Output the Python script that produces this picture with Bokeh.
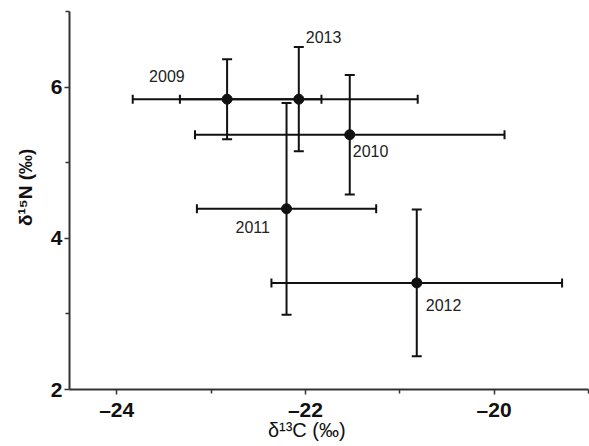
from bokeh.plotting import figure
from bokeh.models import (ColumnDataSource, Range1d, FixedTicker, Whisker, TeeHead, LabelSet)
from bokeh.core.properties import value
from bokeh.embed import file_html
from bokeh.resources import INLINE

# ---- data ----
years = ["2009", "2010", "2011", "2012", "2013"]
d13c = [-22.83, -21.53, -22.20, -20.82, -22.07]
d13c_sd = [1.00, 1.64, 0.95, 1.54, 1.26]
d15n = [5.84, 5.37, 4.39, 3.41, 5.84]
d15n_sd = [0.53, 0.79, 1.40, 0.97, 0.69]

x_major = [-24, -22, -20]
x_minor = [-23, -21, -19]
y_major = [2, 4, 6]
y_minor = [3, 5, 7]

NBSP = "\u00a0"
x_title = "\u03b4\u00b9\u00b3C (\u2030)"
y_title = "\u03b4\u00b9\u2075N (\u2030)"

# label offsets in screen pixels (style, not data)
lab_dx = [-78, 3, -51, 9, 7]
lab_dy = [17, -22, -24, -28, 56]

FONT = "Liberation Sans"
INK = "#111111"

src = ColumnDataSource(dict(
    year=years, x=d13c, y=d15n,
    xl=[a - b for a, b in zip(d13c, d13c_sd)], xu=[a + b for a, b in zip(d13c, d13c_sd)],
    yl=[a - b for a, b in zip(d15n, d15n_sd)], yu=[a + b for a, b in zip(d15n, d15n_sd)],
    dx=lab_dx, dy=lab_dy,
))

p = figure(width=589, height=446, output_backend="svg", toolbar_location=None,
           x_range=Range1d(-24.5, -19.0), y_range=Range1d(2, 7),
           min_border_left=69, min_border_right=1, min_border_top=11, min_border_bottom=57)
p.outline_line_color = None
p.grid.grid_line_color = None
p.background_fill_color = "white"
p.border_fill_color = "white"

p.xaxis.ticker = FixedTicker(ticks=x_major, minor_ticks=x_minor)
p.yaxis.ticker = FixedTicker(ticks=y_major, minor_ticks=y_minor)
p.xaxis.major_label_overrides = {t: "\u2013" + str(abs(t)) for t in x_major}
p.yaxis.major_label_overrides = {t: str(t) for t in y_major}
for ax in (p.xaxis, p.yaxis):
    ax.axis_line_width = 2
    ax.axis_line_color = "#333333"
    ax.major_tick_line_color = "#333333"
    ax.minor_tick_line_color = "#333333"
    ax.major_tick_line_width = 1.5
    ax.minor_tick_line_width = 1.5
    ax.major_tick_in = 0
    ax.minor_tick_in = 0
    ax.major_tick_out = 5
    ax.minor_tick_out = 4
    ax.major_label_text_font = FONT
    ax.major_label_text_font_style = "bold"
    ax.major_label_text_font_size = "21px"
    ax.major_label_text_color = "#111111"
    ax.axis_label_text_font = FONT
    ax.axis_label_text_color = "#111111"
p.xaxis.major_label_standoff = 3
p.yaxis.major_label_standoff = 2

# non-breaking-space padding shifts the centred titles to where the reference has them
p.xaxis.axis_label = x_title + NBSP * 8
p.xaxis.axis_label_text_font_size = "20px"
p.xaxis.axis_label_text_font_style = "normal"
p.xaxis.axis_label_standoff = -5
p.yaxis.axis_label = NBSP * 5 + y_title
p.yaxis.axis_label_text_font_size = "19px"
p.yaxis.axis_label_text_font_style = "bold"
p.yaxis.axis_label_standoff = 12

# error bars
p.add_layout(Whisker(source=src, base="y", lower="xl", upper="xu", dimension="width",
                     line_color=INK, line_width=2,
                     lower_head=TeeHead(size=9, line_color=INK, line_width=2),
                     upper_head=TeeHead(size=9, line_color=INK, line_width=2)))
p.add_layout(Whisker(source=src, base="x", lower="yl", upper="yu", dimension="height",
                     line_color=INK, line_width=2,
                     lower_head=TeeHead(size=10, line_color=INK, line_width=2),
                     upper_head=TeeHead(size=10, line_color=INK, line_width=2)))

p.scatter("x", "y", source=src, size=10, fill_color=INK, line_color=INK)

p.add_layout(LabelSet(x="x", y="y", text="year", source=src, x_offset="dx", y_offset="dy",
                      text_font=value(FONT), text_font_size="16px", text_color="#222222",
                      text_baseline="alphabetic", text_align="left"))

open("out.html", "w").write(file_html(p, INLINE))
